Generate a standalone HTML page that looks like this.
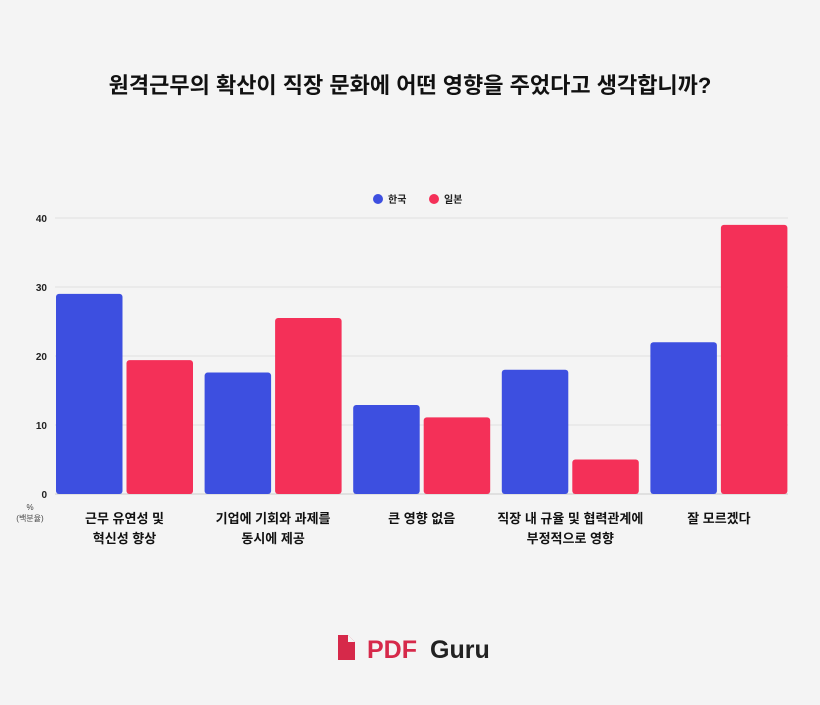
<!DOCTYPE html>
<html><head><meta charset="utf-8"><style>
body{margin:0;background:#f4f4f4;font-family:"Liberation Sans","Noto Sans CJK KR",sans-serif;}
</style></head><body>
<svg width="820" height="700" viewBox="0 0 820 700" xmlns="http://www.w3.org/2000/svg" font-family="Liberation Sans, Noto Sans CJK KR, sans-serif">
<rect width="820" height="700" fill="#f4f4f4"/>
<text x="410" y="93" text-anchor="middle" font-size="22" font-weight="bold" fill="#111">원격근무의 확산이 직장 문화에 어떤 영향을 주었다고 생각합니까?</text>
<g>
<circle cx="378" cy="199" r="5" fill="#3d4fe0"/>
<text x="388" y="203" font-size="10" font-weight="bold" fill="#222">한국</text>
<circle cx="434" cy="199" r="5" fill="#f43058"/>
<text x="444" y="203" font-size="10" font-weight="bold" fill="#222">일본</text>
</g>
<g id="grid"></g><g id="bars"></g><g id="xl"></g>
<text x="30" y="510" text-anchor="middle" font-size="8" fill="#444">%</text>
<text x="30" y="521" text-anchor="middle" font-size="8" fill="#444">(백분율)</text>
<g>
<path d="M338 635 h10 l7 7 v18 h-17 z" fill="#d6294a"/>
<path d="M348 635 v7 h7 z" fill="#f4f4f4"/>
<text x="367" y="658" font-size="25" font-weight="bold" fill="#d6294a">PDF</text>
<text x="430" y="658" font-size="25" font-weight="bold" fill="#222">Guru</text>
</g>
</svg>
<script>
const categories=[["근무 유연성 및","혁신성 향상"],["기업에 기회와 과제를","동시에 제공"],["큰 영향 없음"],["직장 내 규율 및 협력관계에","부정적으로 영향"],["잘 모르겠다"]];
const korea=[29,17.6,12.9,18,22];
const japan=[19.4,25.5,11.1,5,39];
const ticks=[0,10,20,30,40];
const NS="http://www.w3.org/2000/svg";
const y0=494,pxPer=6.9,left=55,right=788,groupW=148.6,barW=66.5;
const y=v=>y0-v*pxPer;
function mk(t,a,p){const e=document.createElementNS(NS,t);for(const k in a)e.setAttribute(k,a[k]);p.appendChild(e);return e;}
const grid=document.getElementById('grid');
ticks.forEach(t=>{
 const l=mk('line',{x1:left,x2:right,y1:y(t),y2:y(t),stroke:t===0?'#ccc':'#e0e0e0','stroke-width':1},grid);
 
 
 const tx=mk('text',{x:47,y:y(t)+4,'text-anchor':'end','font-size':10,'font-weight':'bold',fill:'#222'},grid);
 tx.textContent=t;
 
 
});
const bars=document.getElementById('bars'),xl=document.getElementById('xl');
categories.forEach((c,i)=>{
 const gx=56+i*groupW;
 const a=mk('rect',{x:gx,y:y(korea[i]),width:barW,height:korea[i]*pxPer,rx:3,fill:'#3d4fe0'},bars);
 
 
 const b=mk('rect',{x:gx+barW+4,y:y(japan[i]),width:barW,height:japan[i]*pxPer,rx:3,fill:'#f43058'},bars);
 
 
 c.forEach((line,j)=>{
  const t=mk('text',{x:gx+barW+2,y:523+j*20,'text-anchor':'middle','font-size':13,'font-weight':'bold',fill:'#111'},xl);
  t.textContent=line;
  
  
 });
});
</script>
</body></html>
